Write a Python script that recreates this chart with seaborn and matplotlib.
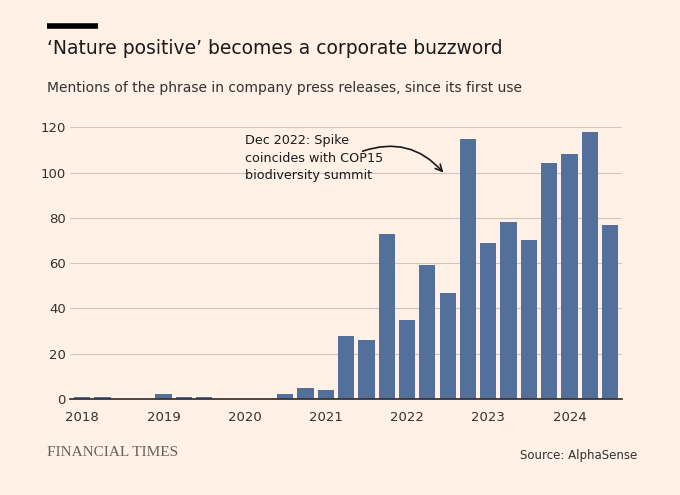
import pandas as pd
import matplotlib.pyplot as plt
import seaborn as sns
from matplotlib.lines import Line2D

# quarterly mentions, x = year + (quarter-1)/4
counts = {
    (2018, 1): 1, (2018, 2): 1, (2018, 3): 0, (2018, 4): 0,
    (2019, 1): 2, (2019, 2): 1, (2019, 3): 1, (2019, 4): 0,
    (2020, 1): 0, (2020, 2): 0, (2020, 3): 2, (2020, 4): 5,
    (2021, 1): 4, (2021, 2): 28, (2021, 3): 26, (2021, 4): 73,
    (2022, 1): 35, (2022, 2): 59, (2022, 3): 47, (2022, 4): 115,
    (2023, 1): 69, (2023, 2): 78, (2023, 3): 70, (2023, 4): 104,
    (2024, 1): 108, (2024, 2): 118, (2024, 3): 77,
}
df = pd.DataFrame([{'x': y + (q - 1) / 4, 'n': v} for (y, q), v in counts.items()])

bg = '#FFF1E5'
sns.set_theme(style='white')
plt.rcParams['font.family'] = ['DejaVu Sans']

fig = plt.figure(figsize=(6.8, 4.95), dpi=100, facecolor=bg)
ax = fig.add_axes([0.103, 0.194, 0.812, 0.549], facecolor=bg)
sns.barplot(data=df, x='x', y='n', native_scale=True, width=0.8,
            color='#52709B', saturation=1, linewidth=0, ax=ax)

ax.set_xlim(2017.85, 2024.65)
ax.set_ylim(0, 120)
ax.set_yticks(range(0, 121, 20))
ax.set_xticks(range(2018, 2025))
ax.set_xticklabels([str(y) for y in range(2018, 2025)])
ax.yaxis.grid(True, color='#CFC6BD', lw=0.8)
ax.set_axisbelow(True)
for s in ['top', 'right', 'left']:
    ax.spines[s].set_visible(False)
ax.spines['bottom'].set_color('#33302E')
ax.tick_params(axis='x', length=5, color='#33302E', labelsize=9.5, labelcolor='#33302E')
ax.tick_params(axis='y', length=0, labelsize=9.5, labelcolor='#33302E', pad=3)
ax.set_xlabel('')
ax.set_ylabel('')

# annotation
ax.text(2020.0, 117, 'Dec 2022: Spike\ncoincides with COP15\nbiodiversity summit',
        fontsize=9.2, color='#1a1a1a', va='top', linespacing=1.45)
ax.annotate('', xy=(2022.47, 99), xytext=(2021.42, 109),
            arrowprops=dict(arrowstyle='->', color='#1a1a1a', lw=1.2,
                            connectionstyle='arc3,rad=-0.35'))

# header / footer
fig.add_artist(Line2D([47/680, 98/680], [1 - 26/495] * 2, color='#000', lw=4,
                      solid_capstyle='butt'))
fig.text(47/680, 1 - 48/495, '\u2018Nature positive\u2019 becomes a corporate buzzword',
         fontsize=13.5, color='#1a1a1a', va='center')
fig.text(47/680, 1 - 88/495, 'Mentions of the phrase in company press releases, since its first use',
         fontsize=10, color='#33302E', va='center')
fig.text(47/680, 1 - 453/495, 'FINANCIAL TIMES', fontsize=11, color='#66605C',
         family='Liberation Serif', va='center')
fig.text(637/680, 1 - 455/495, 'Source: AlphaSense', fontsize=8.5, color='#33302E',
         ha='right', va='center')

fig.savefig('out.png', dpi=100, facecolor=bg)
